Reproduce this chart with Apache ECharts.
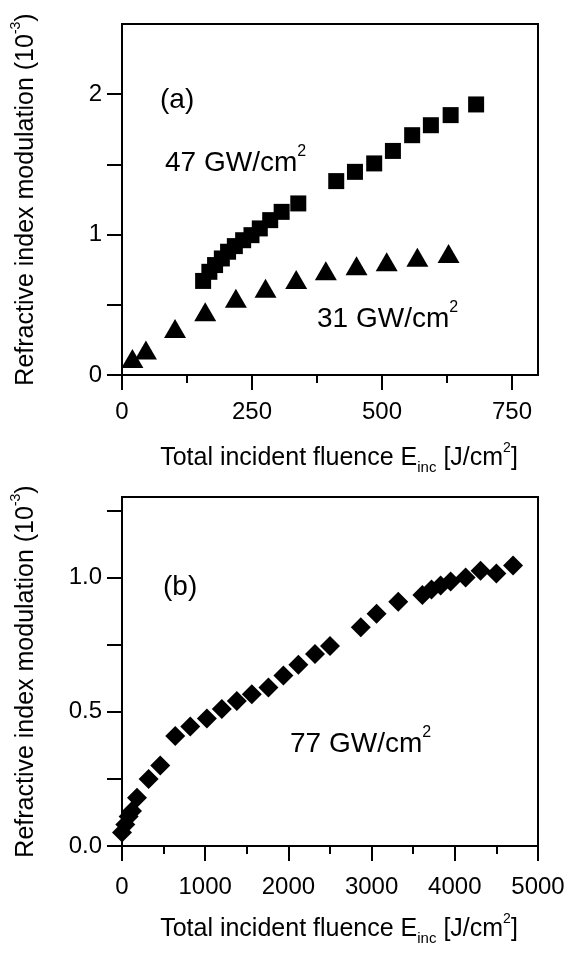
<!DOCTYPE html>
<html><head><meta charset="utf-8">
<script src="https://cdn.jsdelivr.net/npm/echarts@6/dist/echarts.min.js"></script>
<style>html,body{margin:0;padding:0;background:#fff}#c{width:571px;height:956px}</style>
</head><body><div id="c"></div>
<script>
// ---- data: panel (a) ----
const squareX = [156,168,179,192,204,217,233,249,265,285,307,339,412,448,485,521,558,594,632,681];
const squareY = [0.67,0.735,0.783,0.83,0.878,0.918,0.96,0.996,1.044,1.103,1.162,1.222,1.381,1.447,1.507,1.596,1.708,1.779,1.851,1.927];
const triX = [20,46,102,160,219,276,335,392,451,509,568,628];
const triY = [0.118,0.178,0.332,0.451,0.546,0.617,0.681,0.742,0.778,0.807,0.838,0.866];
// ---- data: panel (b) ----
const diaX = [0,40,80,120,180,320,460,640,820,1020,1200,1380,1560,1760,1940,2120,2320,2500,2870,3060,3320,3610,3720,3830,3950,4130,4310,4500,4700];
const diaY = [0.05,0.08,0.11,0.13,0.18,0.25,0.30,0.41,0.445,0.475,0.51,0.54,0.565,0.59,0.635,0.675,0.715,0.745,0.815,0.865,0.91,0.935,0.955,0.97,0.985,1.0,1.025,1.015,1.045];
// ---- ticks ----
const aXMajor = [0,250,500,750];
const aXMinor = [125,375,625];
const aYTicks = [0,0.5,1,1.5,2];
const aYLabels = [0,1,2];
const bXMajor = [0,1000,2000,3000,4000,5000];
const bXMinor = [500,1500,2500,3500,4500];
const bYTicks = [0,0.25,0.5,0.75,1,1.25];
const bYLabels = [0,0.5,1];

const FONT = 'Liberation Sans, Arial, Helvetica, sans-serif';
const AX = 24, TT = 25, ANN = 28, LH = 34;
const richSS = {
  sup: {fontSize: 14, lineHeight: 14, verticalAlign: 'top', fontFamily: FONT, color: '#000'},
  sub: {fontSize: 15, lineHeight: 15, verticalAlign: 'bottom', fontFamily: FONT, color: '#000'}
};
const annRich = {sup: {fontSize: 16, lineHeight: 16, verticalAlign: 'top', fill: '#000', fontFamily: FONT}};
const xTitle = 'Total incident fluence E{sub|inc} [J/cm{sup|2}]';
const yTitle = 'Refractive index modulation (10{sup|-3})';

function xAxes(grid, min, max, major, minor, margin, gap) {
  return [{
    type: 'value', gridIndex: grid, position: 'bottom', min: min, max: max,
    axisLine: {show: true, onZero: false, lineStyle: {color: '#000', width: 2}},
    axisTick: {show: true, inside: false, length: 15, customValues: major, lineStyle: {color: '#000', width: 2}},
    axisLabel: {show: true, customValues: major, margin: margin, color: '#000', fontSize: AX, fontFamily: FONT, formatter: v => String(v)},
    splitLine: {show: false},
    name: xTitle, nameLocation: 'middle', nameGap: gap,
    nameTextStyle: {color: '#000', fontSize: TT, fontFamily: FONT, lineHeight: LH, padding: [0, 0, 0, 18], rich: richSS}
  }, {
    type: 'value', gridIndex: grid, position: 'bottom', min: min, max: max,
    axisLine: {show: false, onZero: false},
    axisTick: {show: true, inside: false, length: 8, customValues: minor, lineStyle: {color: '#000', width: 2}},
    axisLabel: {show: false}, splitLine: {show: false}
  }];
}
function yAxis(grid, min, max, ticks, labels, fmt, gap) {
  return {
    type: 'value', gridIndex: grid, position: 'left', min: min, max: max,
    axisLine: {show: true, onZero: false, lineStyle: {color: '#000', width: 2}},
    axisTick: {show: true, inside: false, length: 15, customValues: ticks, lineStyle: {color: '#000', width: 2}},
    axisLabel: {show: true, customValues: labels, margin: 20, color: '#000', fontSize: AX, fontFamily: FONT, formatter: fmt},
    splitLine: {show: false},
    name: yTitle, nameLocation: 'middle', nameGap: gap, nameRotate: 90,
    nameTextStyle: {color: '#000', fontSize: TT, fontFamily: FONT, lineHeight: LH, rich: richSS}
  };
}

const chart = echarts.init(document.getElementById('c'), null, {renderer: 'canvas'});
chart.setOption({
  backgroundColor: '#fff',
  animation: false,
  grid: [
    {left: 122, top: 24, width: 416, height: 351, show: true, borderColor: '#000', borderWidth: 2, backgroundColor: 'transparent'},
    {left: 122, top: 497, width: 416, height: 349, show: true, borderColor: '#000', borderWidth: 2, backgroundColor: 'transparent'}
  ],
  xAxis: [].concat(xAxes(0, 0, 800, aXMajor, aXMinor, 25, 66), xAxes(1, 0, 5000, bXMajor, bXMinor, 29, 66)),
  yAxis: [
    yAxis(0, 0, 2.5, aYTicks, aYLabels, v => String(v), 79),
    yAxis(1, 0, 1.3, bYTicks, bYLabels, v => v.toFixed(1), 79)
  ],
  series: [
    {type: 'scatter', xAxisIndex: 0, yAxisIndex: 0, symbol: 'rect', symbolSize: 16, clip: false,
     itemStyle: {color: '#000', opacity: 1}, data: squareX.map((x, i) => [x, squareY[i]])},
    {type: 'scatter', xAxisIndex: 0, yAxisIndex: 0, symbol: 'triangle', symbolSize: [22, 19], clip: false,
     itemStyle: {color: '#000', opacity: 1}, data: triX.map((x, i) => [x, triY[i]])},
    {type: 'scatter', xAxisIndex: 2, yAxisIndex: 1, symbol: 'diamond', symbolSize: 20, clip: false,
     itemStyle: {color: '#000', opacity: 1}, data: diaX.map((x, i) => [x, diaY[i]])}
  ],
  graphic: [
    {type: 'text', left: 160, top: 86, style: {text: '(a)', fill: '#000', fontSize: ANN, fontFamily: FONT}},
    {type: 'text', left: 165, top: 144, style: {text: '47 GW/cm{sup|2}', fill: '#000', fontSize: ANN, fontFamily: FONT, lineHeight: 38, rich: annRich}},
    {type: 'text', left: 317, top: 300, style: {text: '31 GW/cm{sup|2}', fill: '#000', fontSize: ANN, fontFamily: FONT, lineHeight: 38, rich: annRich}},
    {type: 'text', left: 163, top: 573, style: {text: '(b)', fill: '#000', fontSize: ANN, fontFamily: FONT}},
    {type: 'text', left: 290, top: 725, style: {text: '77 GW/cm{sup|2}', fill: '#000', fontSize: ANN, fontFamily: FONT, lineHeight: 38, rich: annRich}}
  ]
});
</script></body></html>
